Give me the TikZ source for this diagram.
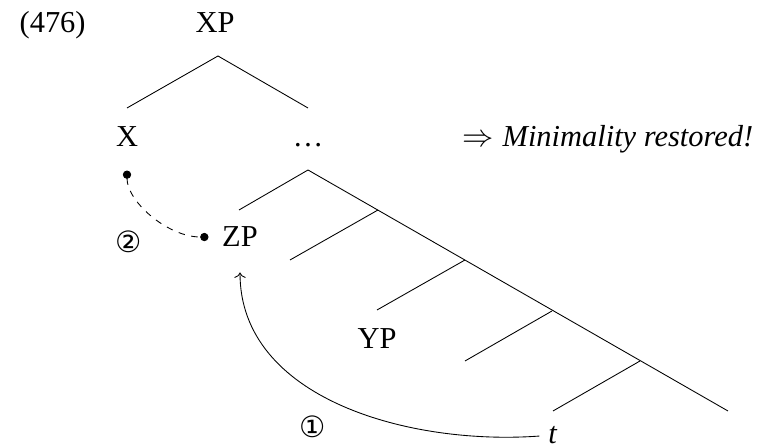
\documentclass[tikz,border=0pt]{standalone}
\usepackage{fontspec}
\setmainfont{Liberation Serif}
\newfontfamily\circfont{DejaVu Sans}
\usetikzlibrary{arrows.meta}

\begin{document}
\begin{tikzpicture}[
    x=0.46pt, y=0.46pt,
    font=\fontsize{14}{16}\selectfont,
    >=To,
    cat/.style={anchor=base},
    branch/.style={line width=0.4pt},
    move/.style={->, shorten <=3pt, shorten >=8.2pt},
    agree/.style={{Circle[length=3.8pt]}-{Circle[length=3.8pt]}, dashed, shorten <=7.3pt, shorten >=2.8pt},
    numlab/.style={font=\circfont\fontsize{13.5}{14}\selectfont, inner sep=0pt}
  ]
    \useasboundingbox (0,0) rectangle (761,448);

    \node[anchor=base west] (ex) at (12,415) {(476)};
    \node[cat] (xp) at (215,415) {XP};
    \node[cat] (x) at (127,301) {X};
    \node[cat] (dots) at (308,301) {\dots};
    \node[anchor=base west] (note) at (455,301) {$\Rightarrow$\hspace{4pt}\textit{Minimality restored!}};
    \node[cat] (zp) at (240,201) {ZP};
    \node[cat] (yp) at (377,99) {YP};
    \node[cat, inner sep=1pt] (t) at (553,4) {\textit{t}};

    \coordinate (top) at (218,392);
    \coordinate (xL) at (127,340);
    \coordinate (dR) at (308,340);
    \coordinate (n0) at (308,278);
    \coordinate (zT) at (239,238);
    \coordinate (n1) at (378,238);
    \coordinate (e1) at (290,188);
    \coordinate (n2) at (465,188);
    \coordinate (yT) at (377,138);
    \coordinate (n3) at (552,137);
    \coordinate (e2) at (465,87);
    \coordinate (n4) at (640,87);
    \coordinate (tT) at (553,37);
    \coordinate (e3) at (728,37);

    \draw[branch] (xL) -- (top) -- (dR);
    \draw[branch] (n0) -- (e3);
    \foreach \a/\b in {n0/zT, n1/e1, n2/yT, n3/e2, n4/tT} {
      \draw[branch] (\a) -- (\b);
    }

    \draw[agree] (x.south) to[out=-90, in=180] (zp.west);
    \draw[move] (t.west) .. controls +(-137,-10) and +(0,-144) .. (zp.south);

    \node[numlab] (two) at (129,206) {②};
    \node[numlab] (one) at (313,21) {①};
  \end{tikzpicture}
\end{document}
